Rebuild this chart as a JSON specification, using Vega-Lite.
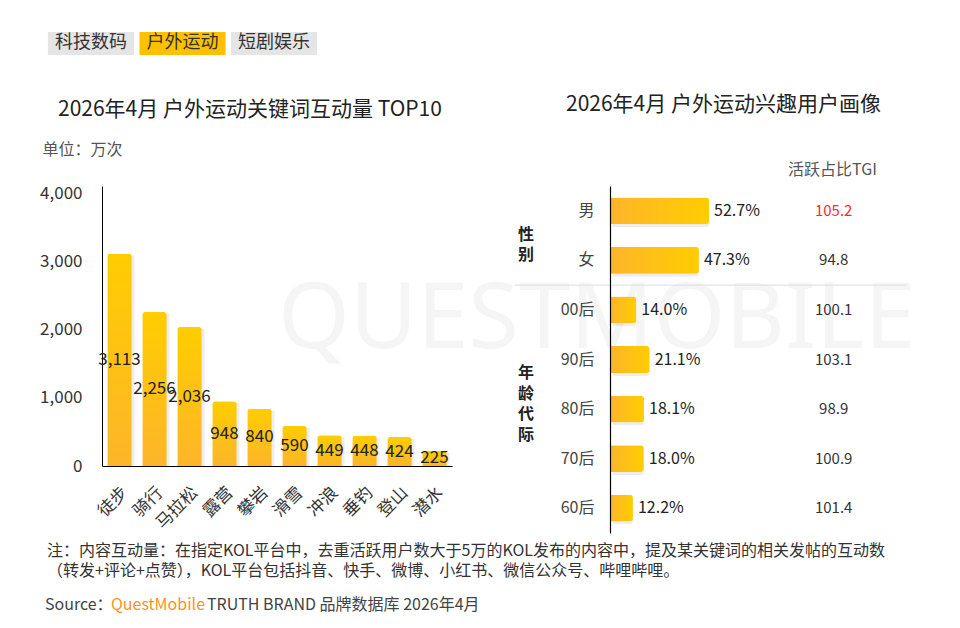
{
  "$schema": "https://vega.github.io/schema/vega-lite/v6.json",
  "background": "#ffffff",
  "padding": {"left": 39, "top": 32, "right": 0, "bottom": 20},
  "spacing": 0,
  "config": {
    "font": "Noto Sans CJK SC",
    "view": {"stroke": null},
    "axis": {"grid": false, "ticks": false}
  },
  "datasets": {
    "tags": [
      {"tag": "科技数码", "sel": "no", "row": "t"},
      {"tag": "户外运动", "sel": "yes", "row": "t"},
      {"tag": "短剧娱乐", "sel": "no", "row": "t"}
    ],
    "kw": [
      {"kw": "徒步", "v": 3113},
      {"kw": "骑行", "v": 2256},
      {"kw": "马拉松", "v": 2036},
      {"kw": "露营", "v": 948},
      {"kw": "攀岩", "v": 840},
      {"kw": "滑雪", "v": 590},
      {"kw": "冲浪", "v": 449},
      {"kw": "垂钓", "v": 448},
      {"kw": "登山", "v": 424},
      {"kw": "潜水", "v": 225}
    ],
    "profile": [
      {"row": "男", "share": 0.527, "tgi": 105.2},
      {"row": "女", "share": 0.473, "tgi": 94.8},
      {"row": "00后", "share": 0.140, "tgi": 100.1},
      {"row": "90后", "share": 0.211, "tgi": 103.1},
      {"row": "80后", "share": 0.181, "tgi": 98.9},
      {"row": "70后", "share": 0.180, "tgi": 100.9},
      {"row": "60后", "share": 0.122, "tgi": 101.4}
    ],
    "groups": [
      {"row": "男", "g": "sex", "label": ["性", "别"]},
      {"row": "80后", "g": "age", "label": ["年", "龄", "代", "际"]}
    ],
    "mark": [
      {"row": "00后", "text": "QUESTMOBILE"}
    ],
    "foot": [
      {"part": "n1", "seg": "n1", "text": "注：内容互动量：在指定KOL平台中，去重活跃用户数大于5万的KOL发布的内容中，提及某关键词的相关发帖的互动数"},
      {"part": "n2", "seg": "n2", "text": "（转发+评论+点赞），KOL平台包括抖音、快手、微博、小红书、微信公众号、哔哩哔哩。"},
      {"part": "src", "seg": "a", "text": "Source："},
      {"part": "src", "seg": "b", "text": "QuestMobile"},
      {"part": "src", "seg": "c", "text": "TRUTH BRAND 品牌数据库 2026年4月"}
    ]
  },
  "vconcat": [
    {
      "width": 215,
      "height": 61.5,
      "data": {"name": "tags"},
      "encoding": {
        "x": {"field": "tag", "type": "nominal", "sort": null, "axis": null, "scale": {"range": [-57, 218], "paddingInner": 0.06, "paddingOuter": 0.032}},
        "y": {"field": "row", "type": "nominal", "axis": null, "scale": {"paddingInner": 0, "paddingOuter": 0.837, "align": 0}}
      },
      "layer": [
        {
          "mark": {"type": "rect"},
          "encoding": {
            "color": {"field": "sel", "type": "nominal", "scale": {"domain": ["no", "yes"], "range": ["#E5E5E5", "#FFC000"]}, "legend": null}
          }
        },
        {
          "mark": {"type": "text", "fontSize": 18, "color": "#333333", "baseline": "middle"},
          "encoding": {"text": {"field": "tag"}}
        }
      ]
    },
    {
      "spacing": -174,
      "hconcat": [
        {
          "width": 350,
          "height": 280,
          "title": {"text": "2026年4月 户外运动关键词互动量 TOP10", "anchor": "start", "frame": "group", "dx": -44, "offset": 21, "fontSize": 21, "fontWeight": "normal", "color": "#222222"},
          "data": {"name": "kw"},
          "encoding": {
            "x": {
              "field": "kw", "type": "nominal", "sort": null,
              "scale": {"paddingInner": 0.3, "paddingOuter": 0.15},
              "axis": {"title": null, "labelAngle": -45, "labelFontSize": 17, "labelColor": "#333333", "domainColor": "#000000", "labelPadding": 18}
            }
          },
          "layer": [
            {
              "encoding": {
                "y": {
                  "field": "v", "type": "quantitative", "scale": {"domain": [0, 4102.6], "nice": false},
                  "axis": {
                    "title": "单位：万次", "titleAngle": 0, "titleX": -60, "titleY": -37, "titleAlign": "left", "titleBaseline": "middle",
                    "titleFontSize": 16, "titleFontWeight": "normal", "titleColor": "#555555",
                    "values": [0, 1000, 2000, 3000, 4000], "format": ",.0f", "labelFontSize": 17, "labelColor": "#333333",
                    "labelPadding": 20, "domainColor": "#000000"
                  }
                }
              },
              "layer": [
                {
                  "mark": {"type": "bar", "color": "#000000", "opacity": 0.07, "xOffset": 3, "yOffset": 2, "cornerRadiusTopLeft": 3, "cornerRadiusTopRight": 3}
                },
                {
                  "mark": {
                    "type": "bar", "cornerRadiusTopLeft": 3, "cornerRadiusTopRight": 3,
                    "color": {"gradient": "linear", "x1": 0, "y1": 0, "x2": 0, "y2": 1, "stops": [{"offset": 0, "color": "#FFCD00"}, {"offset": 1, "color": "#FDB52A"}]}
                  }
                }
              ]
            },
            {
              "mark": {"type": "text", "fontSize": 17, "color": "#222222", "baseline": "middle"},
              "encoding": {
                "y": {"field": "v", "type": "quantitative", "scale": {"domain": [0, 8205.2], "nice": false}, "axis": null},
                "text": {"field": "v", "type": "quantitative", "format": ",.0f"}
              }
            }
          ],
          "resolve": {"scale": {"y": "independent"}}
        },
        {
          "width": 297,
          "height": 347,
          "title": {"text": "2026年4月 户外运动兴趣用户画像", "anchor": "start", "frame": "group", "dx": -44, "offset": 46, "fontSize": 21, "fontWeight": "normal", "color": "#222222"},
          "data": {"name": "profile"},
          "encoding": {
            "y": {
              "field": "row", "type": "nominal", "sort": null,
              "scale": {"domain": ["男", "女", "00后", "90后", "80后", "70后", "60后"], "paddingInner": 0, "paddingOuter": 0},
              "axis": {"title": null, "labelFontSize": 16, "labelColor": "#444444", "labelPadding": 16, "domainColor": "#000000", "domainWidth": 1.2, "zindex": 1}
            }
          },
          "layer": [
            {
              "data": {"name": "mark"},
              "mark": {"type": "text", "align": "left", "baseline": "middle", "dy": 10, "fontSize": 92, "font": "Noto Sans", "color": "#F5F5F5"},
              "encoding": {
                "y": {"field": "row", "type": "nominal", "sort": null},
                "x": {"datum": -1.766, "type": "quantitative"},
                "text": {"field": "text"}
              }
            },
            {
              "transform": [{"filter": "datum.row === '00后'"}],
              "mark": {"type": "rule", "color": "#DDDDDD", "strokeWidth": 1},
              "encoding": {
                "y": {"field": "row", "type": "nominal", "sort": null, "bandPosition": 0},
                "x": {"datum": -0.51, "type": "quantitative"},
                "x2": {"datum": 1.58}
              }
            },
            {
              "mark": {"type": "bar", "height": {"band": 0.54}, "cornerRadiusEnd": 3, "color": "#000000", "opacity": 0.07, "xOffset": 3, "yOffset": 3},
              "encoding": {
                "x": {"field": "share", "type": "quantitative"}
              }
            },
            {
              "mark": {
                "type": "bar", "height": {"band": 0.54}, "cornerRadiusEnd": 3,
                "color": {"gradient": "linear", "x1": 0, "y1": 0, "x2": 1, "y2": 0, "stops": [{"offset": 0, "color": "#FDB52A"}, {"offset": 1, "color": "#FFCD00"}]}
              },
              "encoding": {
                "x": {
                  "field": "share", "type": "quantitative",
                  "scale": {"domain": [0, 1.58], "nice": false, "zero": false},
                  "axis": {
                    "orient": "top", "title": "活跃占比TGI", "labels": false, "domain": false, "ticks": false, "grid": false,
                    "titleX": 222, "titleY": -17, "titleAlign": "center", "titleBaseline": "middle",
                    "titleFontSize": 16, "titleFontWeight": "normal", "titleColor": "#555555"
                  }
                }
              }
            },
            {
              "mark": {"type": "text", "align": "left", "baseline": "middle", "dx": 5, "fontSize": 16, "color": "#222222"},
              "encoding": {
                "x": {"field": "share", "type": "quantitative"},
                "text": {"field": "share", "type": "quantitative", "format": ".1%"}
              }
            },
            {
              "mark": {"type": "text", "align": "center", "baseline": "middle", "fontSize": 15},
              "encoding": {
                "x": {"datum": 1.19, "type": "quantitative"},
                "text": {"field": "tgi", "type": "quantitative", "format": ".1f"},
                "color": {"condition": {"test": "datum.row === '男'", "value": "#FF2A2A"}, "value": "#333333"}
              }
            },
            {
              "data": {"name": "groups"},
              "transform": [{"filter": "datum.g === 'sex'"}],
              "mark": {"type": "text", "align": "center", "baseline": "middle", "dy": 24, "fontSize": 16, "fontWeight": "bold", "lineHeight": 20, "color": "#222222"},
              "encoding": {
                "y": {"field": "row", "type": "nominal", "sort": null},
                "x": {"datum": -0.447, "type": "quantitative"},
                "text": {"field": "label"}
              }
            },
            {
              "data": {"name": "groups"},
              "transform": [{"filter": "datum.g === 'age'"}],
              "mark": {"type": "text", "align": "center", "baseline": "middle", "dy": -36, "fontSize": 16, "fontWeight": "bold", "lineHeight": 20.5, "color": "#222222"},
              "encoding": {
                "y": {"field": "row", "type": "nominal", "sort": null},
                "x": {"datum": -0.447, "type": "quantitative"},
                "text": {"field": "label"}
              }
            }
          ]
        }
      ]
    },
    {
      "width": 780,
      "height": 76,
      "data": {"name": "foot"},
      "encoding": {
        "y": {"field": "part", "type": "nominal", "sort": null, "axis": null, "scale": {"type": "point", "domain": ["n1", "n2", "src"], "padding": 0.9}},
        "x": {"datum": 0, "type": "quantitative", "scale": {"domain": [0, 1]}, "axis": null}
      },
      "layer": [
        {
          "transform": [{"filter": "datum.part !== 'src'"}],
          "mark": {"type": "text", "align": "left", "baseline": "middle", "dx": -55, "fontSize": 16, "color": "#333333"},
          "encoding": {"text": {"field": "text"}}
        },
        {
          "transform": [{"filter": "datum.seg === 'a'"}],
          "mark": {"type": "text", "align": "left", "baseline": "middle", "dx": -57, "dy": 14, "fontSize": 16, "color": "#444444"},
          "encoding": {"text": {"field": "text"}}
        },
        {
          "transform": [{"filter": "datum.seg === 'b'"}],
          "mark": {"type": "text", "align": "left", "baseline": "middle", "dx": 9, "dy": 14, "fontSize": 16, "color": "#F7941D"},
          "encoding": {"text": {"field": "text"}}
        },
        {
          "transform": [{"filter": "datum.seg === 'c'"}],
          "mark": {"type": "text", "align": "left", "baseline": "middle", "dx": 105, "dy": 14, "fontSize": 16, "color": "#444444"},
          "encoding": {"text": {"field": "text"}}
        }
      ]
    }
  ]
}
